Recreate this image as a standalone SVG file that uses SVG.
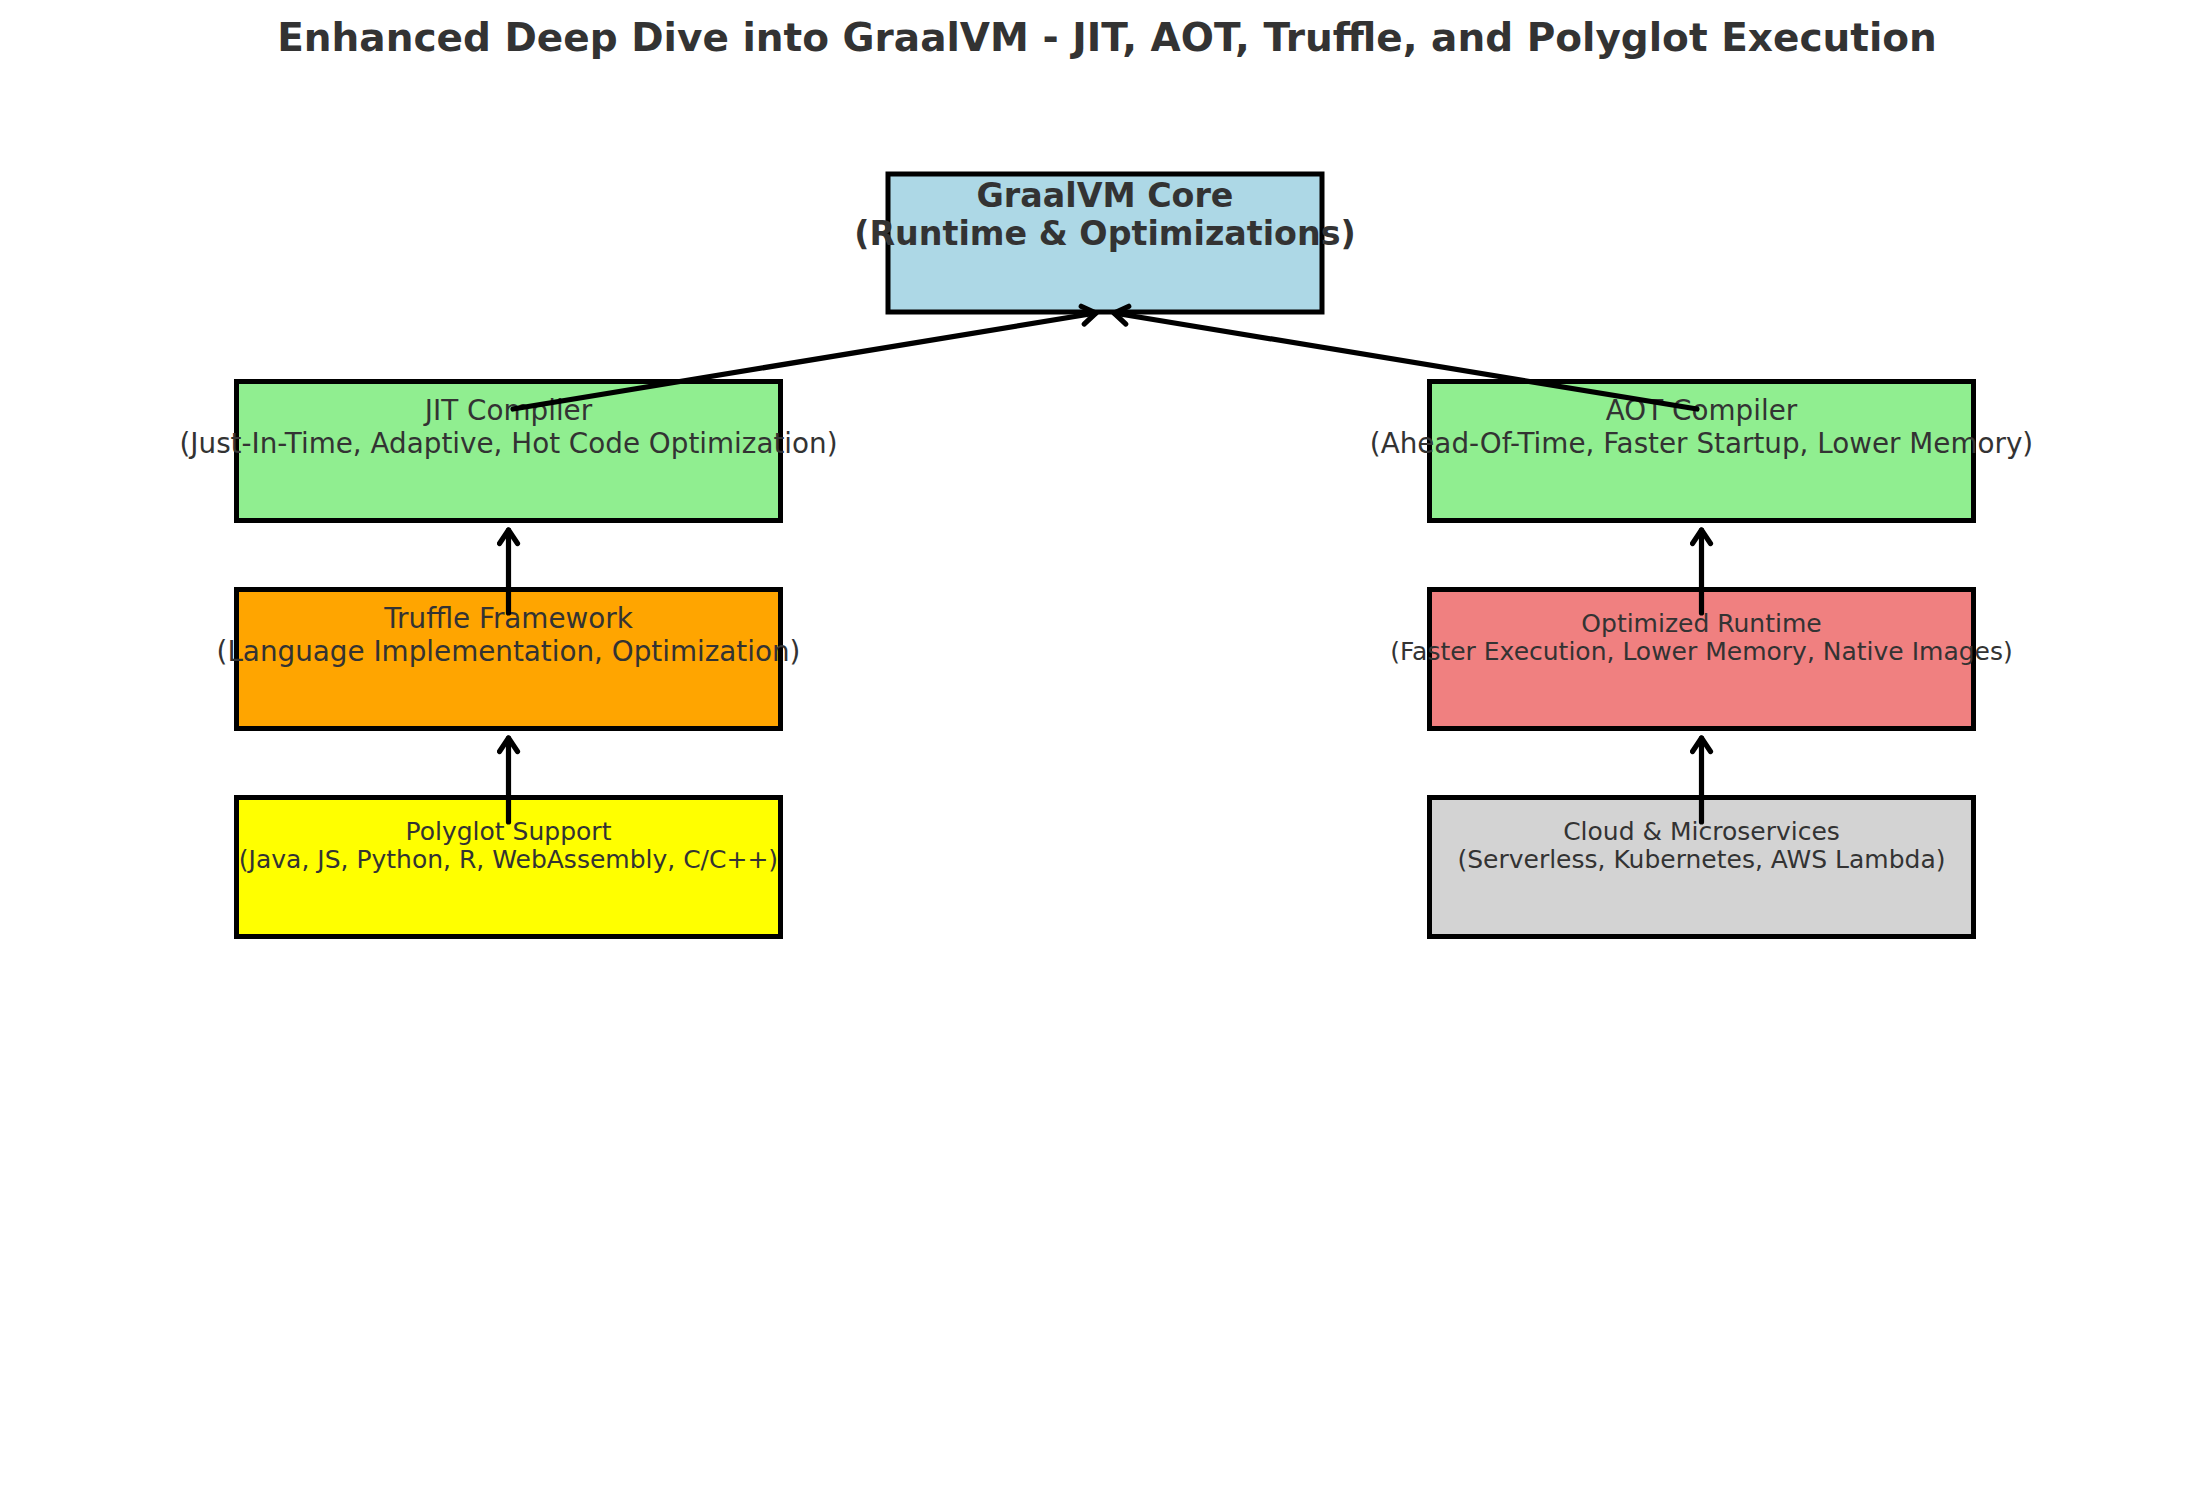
<svg xmlns="http://www.w3.org/2000/svg" width="2210" height="1511" viewBox="0 0 2210 1511">
<style>
.box{stroke:#000;stroke-width:5}
.t{font-family:"DejaVu Sans",sans-serif;fill:#333333;text-anchor:middle}
.b{font-weight:bold}
.m{font-size:27.8px}
.s{font-size:25px}
.c{stroke:#000;stroke-width:5.2;fill:none;stroke-linecap:round}
</style>
<defs>
<marker id="ah" markerUnits="userSpaceOnUse" viewBox="-20 -12 24 24" refX="0" refY="0" markerWidth="24" markerHeight="24" orient="auto">
<path d="M-13.5,-9 L0,0 L-13.5,9" fill="none" stroke="#000" stroke-width="5.2" stroke-linejoin="round" stroke-linecap="round"/>
</marker>
</defs>
<rect width="2210" height="1511" fill="#fff"/>
<text class="t b" x="1107" y="51" font-size="39">Enhanced Deep Dive into GraalVM - JIT, AOT, Truffle, and Polyglot Execution</text>
<g id="core">
<rect class="box" x="888" y="174" width="434" height="138" fill="#ADD8E6"/>
<text class="t b" x="1105" y="207" font-size="33.3">GraalVM Core</text>
<text class="t b" x="1105" y="245" font-size="33.3">(Runtime &amp; Optimizations)</text>
</g>
<g id="jit">
<rect class="box" x="236.5" y="381.5" width="544" height="139" fill="#90EE90"/>
<text class="t m" x="508.5" y="420">JIT Compiler</text>
<text class="t m" x="508.5" y="452.5">(Just-In-Time, Adaptive, Hot Code Optimization)</text>
</g>
<g id="aot">
<rect class="box" x="1429.5" y="381.5" width="544" height="139" fill="#90EE90"/>
<text class="t m" x="1701.5" y="420">AOT Compiler</text>
<text class="t m" x="1701.5" y="452.5">(Ahead-Of-Time, Faster Startup, Lower Memory)</text>
</g>
<g id="truffle">
<rect class="box" x="236.5" y="589.5" width="544" height="139" fill="#FFA500"/>
<text class="t m" x="508.5" y="628">Truffle Framework</text>
<text class="t m" x="508.5" y="660.5">(Language Implementation, Optimization)</text>
</g>
<g id="optimized">
<rect class="box" x="1429.5" y="589.5" width="544" height="139" fill="#F08080"/>
<text class="t s" x="1701.5" y="632">Optimized Runtime</text>
<text class="t s" x="1701.5" y="660">(Faster Execution, Lower Memory, Native Images)</text>
</g>
<g id="polyglot">
<rect class="box" x="236.5" y="797.5" width="544" height="139" fill="#FFFF00"/>
<text class="t s" x="508.5" y="840">Polyglot Support</text>
<text class="t s" x="508.5" y="868">(Java, JS, Python, R, WebAssembly, C/C++)</text>
</g>
<g id="cloud">
<rect class="box" x="1429.5" y="797.5" width="544" height="139" fill="#D3D3D3"/>
<text class="t s" x="1701.5" y="840">Cloud &amp; Microservices</text>
<text class="t s" x="1701.5" y="868">(Serverless, Kubernetes, AWS Lambda)</text>
</g>
<g id="connectors">
<line class="c" x1="513" y1="409" x2="1096" y2="313" marker-end="url(#ah)"/>
<line class="c" x1="1697" y1="409" x2="1114" y2="313" marker-end="url(#ah)"/>
<line class="c" x1="508.5" y1="613" x2="508.5" y2="530" marker-end="url(#ah)"/>
<line class="c" x1="508.5" y1="822" x2="508.5" y2="738" marker-end="url(#ah)"/>
<line class="c" x1="1701.5" y1="613" x2="1701.5" y2="530" marker-end="url(#ah)"/>
<line class="c" x1="1701.5" y1="822" x2="1701.5" y2="738" marker-end="url(#ah)"/>
</g>
</svg>
